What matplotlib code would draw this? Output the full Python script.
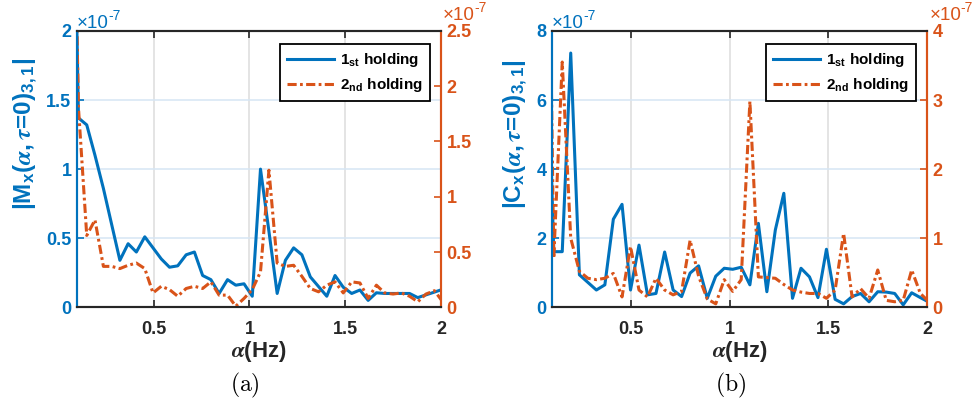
import numpy as np
import matplotlib.pyplot as plt
from matplotlib.ticker import FuncFormatter

plt.rcParams['font.family'] = ['Liberation Sans', 'DejaVu Sans']
plt.rcParams['font.weight'] = 'bold'
plt.rcParams['axes.labelweight'] = 'bold'
plt.rcParams['mathtext.fontset'] = 'custom'
plt.rcParams['mathtext.rm'] = 'Liberation Sans:bold'
plt.rcParams['mathtext.bf'] = 'Liberation Sans:bold'
plt.rcParams['mathtext.sf'] = 'Liberation Sans:bold'
plt.rcParams['mathtext.it'] = 'STIXGeneral:italic'

# cyclic frequency bins (Hz)
alpha = [0.065, 0.108, 0.151, 0.194, 0.238, 0.281, 0.324, 0.367, 0.410, 0.454,
         0.497, 0.540, 0.583, 0.626, 0.670, 0.713, 0.756, 0.799, 0.842, 0.886,
         0.929, 0.972, 1.015, 1.058, 1.102, 1.145, 1.188, 1.231, 1.274, 1.318,
         1.361, 1.404, 1.447, 1.490, 1.534, 1.577, 1.620, 1.663, 1.706, 1.750,
         1.793, 1.836, 1.879, 1.922, 1.966, 2.009]

# |Mx| in units of 1e-7
m_first = [4.6, 1.37, 1.32, 1.10, 0.86, 0.60, 0.34, 0.46, 0.40, 0.51,
           0.43, 0.35, 0.29, 0.30, 0.38, 0.40, 0.23, 0.20, 0.10, 0.20,
           0.16, 0.17, 0.08, 1.00, 0.55, 0.10, 0.34, 0.43, 0.38, 0.22,
           0.15, 0.08, 0.23, 0.145, 0.10, 0.125, 0.05, 0.105, 0.10, 0.10,
           0.10, 0.10, 0.07, 0.09, 0.11, 0.13]
m_second = [5.5, 1.8, 0.65, 0.79, 0.37, 0.37, 0.35, 0.38, 0.40, 0.35,
            0.13, 0.19, 0.16, 0.10, 0.17, 0.19, 0.17, 0.23, 0.11, 0.11,
            0.01, 0.08, 0.16, 0.32, 1.24, 0.40, 0.37, 0.38, 0.28, 0.17,
            0.14, 0.20, 0.23, 0.13, 0.23, 0.22, 0.08, 0.20, 0.13, 0.12,
            0.13, 0.10, 0.05, 0.12, 0.15, 0.05]

# |Cx| in units of 1e-7
c_first = [10.0, 1.61, 1.61, 7.36, 0.94, 0.72, 0.50, 0.65, 2.55, 2.98,
           0.50, 1.80, 0.36, 0.40, 1.60, 0.50, 0.31, 0.99, 1.20, 0.26,
           0.90, 1.13, 1.10, 1.16, 0.65, 2.43, 0.45, 2.24, 3.30, 0.26,
           1.13, 0.88, 0.28, 1.68, 0.23, 0.10, 0.31, 0.40, 0.16, 0.45,
           0.44, 0.40, 0.07, 0.42, 0.28, 0.15]
c_second = [9.6, 0.71, 3.55, 1.00, 0.52, 0.42, 0.40, 0.42, 0.49, 0.15,
            0.88, 0.25, 0.15, 0.42, 0.25, 0.18, 0.23, 0.97, 0.45, 0.12,
            0.05, 0.40, 0.23, 0.40, 2.98, 0.44, 0.43, 0.42, 0.33, 0.25,
            0.22, 0.20, 0.20, 0.13, 0.25, 1.07, 0.15, 0.27, 0.13, 0.54,
            0.10, 0.08, 0.10, 0.54, 0.20, 0.08]

x_ticks = [0.5, 1, 1.5, 2]
legend_labels = [r'1$_{\mathrm{st}}$ holding', r'2$_{\mathrm{nd}}$ holding']

blue = '#0072BD'
orange = '#D95319'
dark = '#262626'
fmt = FuncFormatter(lambda v, p: f'{v:g}')

panels = [
    dict(rect=[0.0791, 0.245, 0.3741, 0.679], y1=m_first, y2=m_second,
         ylim1=(0, 2), ylim2=(0, 2.5),
         yt1=[0, 0.5, 1, 1.5, 2], yt2=[0, 0.5, 1, 1.5, 2, 2.5],
         ylabel=r'$|\mathrm{M}_{\mathrm{x}}(\alpha,\tau\!=\!0)_{3,1}|$',
         ylabel_x=-0.105, tag=r'$\mathrm{(a)}$', tag_x=245),
    dict(rect=[0.5675, 0.245, 0.3853, 0.679], y1=c_first, y2=c_second,
         ylim1=(0, 8), ylim2=(0, 4),
         yt1=[0, 2, 4, 6, 8], yt2=[0, 1, 2, 3, 4],
         ylabel=r'$|\mathrm{C}_{\mathrm{x}}(\alpha,\tau\!=\!0)_{3,1}|$',
         ylabel_x=-0.063, tag=r'$\mathrm{(b)}$', tag_x=731),
]


def exponent(ax, x, y, color):
    # "x10" followed by a raised "-7", like matlab's axis multiplier
    ax.text(x, y, '\u00d710', transform=ax.transAxes, ha='left', va='baseline',
            color=color, fontsize=13.5, fontweight='normal')
    ax.annotate('-7', xy=(x, y), xycoords='axes fraction', xytext=(22.5, 6.0),
                textcoords='offset points', ha='left', va='baseline',
                color=color, fontsize=10, fontweight='normal')


fig = plt.figure(figsize=(9.73, 4.07), dpi=100)

for p in panels:
    ax = fig.add_axes(p['rect'])
    ax2 = ax.twinx()
    l1, = ax.plot(alpha, p['y1'], color=blue, lw=2.2)
    l2, = ax2.plot(alpha, p['y2'], color=orange, lw=2.2,
                   linestyle=(0, (3.0, 1.1, 0.9, 1.1)))

    ax.set_xlim(0.1, 2)
    ax.set_ylim(p['ylim1'])
    ax2.set_ylim(p['ylim2'])
    ax.set_xticks(x_ticks)
    ax.set_yticks(p['yt1'])
    ax2.set_yticks(p['yt2'])
    ax.xaxis.set_major_formatter(fmt)
    ax.yaxis.set_major_formatter(fmt)
    ax2.yaxis.set_major_formatter(fmt)

    ax.tick_params(axis='x', direction='in', length=5, width=1.2, colors=dark,
                   labelsize=13, pad=10, top=True)
    ax.tick_params(axis='y', direction='in', length=5, width=1.2, colors=blue,
                   labelsize=13, pad=4)
    ax2.tick_params(axis='y', direction='in', length=5, width=1.2, colors=orange,
                    labelsize=13, pad=4)

    for a in (ax, ax2):
        a.spines['left'].set_color(blue)
        a.spines['right'].set_color(orange)
        a.spines['top'].set_color(dark)
        a.spines['bottom'].set_color(dark)
        for s in a.spines.values():
            s.set_linewidth(1.5)

    ax.set_axisbelow(True)
    ax.xaxis.grid(True, color='#dcdcdc', lw=1.1)
    ax.yaxis.grid(True, color='#d6e6f4', lw=1.1)

    ax.set_ylabel(p['ylabel'], color=blue, fontsize=17.5)
    ax.yaxis.set_label_coords(p['ylabel_x'], 0.627)
    ax.set_xlabel(r'$\alpha$(Hz)', color=dark, fontsize=16)
    ax.xaxis.set_label_coords(0.5, -0.115)

    exponent(ax, 0.0, 1.011, blue)
    exponent(ax, 1.006, 1.040, orange)

    leg = ax2.legend([l1, l2], legend_labels, loc='upper right',
                     bbox_to_anchor=(0.970, 0.952), borderaxespad=0,
                     fancybox=False, edgecolor='black', framealpha=1,
                     fontsize=11, handlelength=3.1, handletextpad=0.4,
                     borderpad=0.45, labelspacing=0.45)
    leg.get_frame().set_linewidth(1.3)

    fig.text(p['tag_x'] / 973, 1 - 385 / 407, p['tag'], math_fontfamily='cm',
             fontsize=17, ha='center', va='center', color='black')

fig.savefig('out.png', dpi=100)
